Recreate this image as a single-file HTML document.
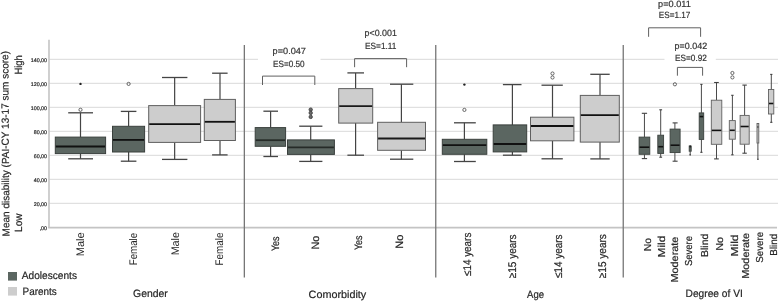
<!DOCTYPE html><html><head><meta charset="utf-8"><style>html,body{margin:0;padding:0;background:#fff;}svg{display:block;}text{font-family:"Liberation Sans", sans-serif;text-rendering:geometricPrecision;} .b{stroke:#262626;stroke-width:0.2px;} .a{stroke:#333;stroke-width:0.2px;}</style></head><body>
<svg width="778" height="302" viewBox="0 0 778 302" style="will-change:transform">
<rect width="778" height="302" fill="#fff"/>
<line x1="49" y1="203.30" x2="778" y2="203.30" stroke="#d9d9d9" stroke-width="1"/>
<line x1="49" y1="179.30" x2="778" y2="179.30" stroke="#d9d9d9" stroke-width="1"/>
<line x1="49" y1="155.30" x2="778" y2="155.30" stroke="#d9d9d9" stroke-width="1"/>
<line x1="49" y1="131.30" x2="778" y2="131.30" stroke="#d9d9d9" stroke-width="1"/>
<line x1="49" y1="107.30" x2="778" y2="107.30" stroke="#d9d9d9" stroke-width="1"/>
<line x1="49" y1="83.30" x2="778" y2="83.30" stroke="#d9d9d9" stroke-width="1"/>
<line x1="49" y1="59.30" x2="778" y2="59.30" stroke="#d9d9d9" stroke-width="1"/>
<rect x="258.00" y="56" width="62.50" height="7" fill="#fff"/>
<rect x="664.50" y="56" width="51.30" height="7" fill="#fff"/>
<line x1="49" y1="39.7" x2="49" y2="228" stroke="#c4c4c4" stroke-width="1.6"/>
<line x1="48.2" y1="227.6" x2="777" y2="227.6" stroke="#c4c4c4" stroke-width="1.6"/>
<line x1="244.35" y1="44.9" x2="244.35" y2="277.5" stroke="#767676" stroke-width="1.3"/>
<line x1="435.75" y1="44.9" x2="435.75" y2="277.5" stroke="#767676" stroke-width="1.3"/>
<line x1="623.25" y1="44.9" x2="623.25" y2="277.5" stroke="#767676" stroke-width="1.3"/>
<text x="47" y="230.10" font-size="5.3" text-anchor="end" fill="#262626" stroke="#333" stroke-width="0.22">,00</text>
<text x="47" y="206.10" font-size="5.3" text-anchor="end" fill="#262626" stroke="#333" stroke-width="0.22">20,00</text>
<text x="47" y="182.10" font-size="5.3" text-anchor="end" fill="#262626" stroke="#333" stroke-width="0.22">40,00</text>
<text x="47" y="158.10" font-size="5.3" text-anchor="end" fill="#262626" stroke="#333" stroke-width="0.22">60,00</text>
<text x="47" y="134.10" font-size="5.3" text-anchor="end" fill="#262626" stroke="#333" stroke-width="0.22">80,00</text>
<text x="47" y="110.10" font-size="5.3" text-anchor="end" fill="#262626" stroke="#333" stroke-width="0.22">100,00</text>
<text x="47" y="86.10" font-size="5.3" text-anchor="end" fill="#262626" stroke="#333" stroke-width="0.22">120,00</text>
<text x="47" y="62.10" font-size="5.3" text-anchor="end" fill="#262626" stroke="#333" stroke-width="0.22">140,00</text>
<line x1="80.50" y1="112.80" x2="80.50" y2="137.10" stroke="#444444" stroke-width="1.20"/>
<line x1="80.50" y1="153.60" x2="80.50" y2="158.80" stroke="#444444" stroke-width="1.20"/>
<line x1="68.20" y1="112.80" x2="93.00" y2="112.80" stroke="#444444" stroke-width="1.30"/>
<line x1="68.20" y1="158.80" x2="93.00" y2="158.80" stroke="#444444" stroke-width="1.30"/>
<rect x="55.30" y="137.10" width="50.30" height="16.50" fill="#5b6661" stroke="#3a403d" stroke-width="1.00"/>
<line x1="55.80" y1="146.50" x2="105.10" y2="146.50" stroke="#111111" stroke-width="1.80"/>
<circle cx="80.50" cy="109.80" r="1.6" fill="none" stroke="#3a3a3a" stroke-width="0.75"/>
<circle cx="80.50" cy="83.90" r="1.2" fill="#222"/>
<line x1="128.60" y1="111.40" x2="128.60" y2="126.30" stroke="#444444" stroke-width="1.20"/>
<line x1="128.60" y1="152.00" x2="128.60" y2="161.20" stroke="#444444" stroke-width="1.20"/>
<line x1="120.80" y1="111.40" x2="136.40" y2="111.40" stroke="#444444" stroke-width="1.30"/>
<line x1="120.80" y1="161.20" x2="136.40" y2="161.20" stroke="#444444" stroke-width="1.30"/>
<rect x="112.50" y="126.30" width="32.10" height="25.70" fill="#5b6661" stroke="#3a403d" stroke-width="1.00"/>
<line x1="113.00" y1="139.90" x2="144.10" y2="139.90" stroke="#111111" stroke-width="1.80"/>
<circle cx="128.60" cy="83.90" r="1.6" fill="none" stroke="#3a3a3a" stroke-width="0.75"/>
<line x1="174.65" y1="77.50" x2="174.65" y2="105.60" stroke="#444444" stroke-width="1.20"/>
<line x1="174.65" y1="142.40" x2="174.65" y2="159.40" stroke="#444444" stroke-width="1.20"/>
<line x1="162.00" y1="77.50" x2="187.40" y2="77.50" stroke="#444444" stroke-width="1.30"/>
<line x1="162.00" y1="159.40" x2="187.40" y2="159.40" stroke="#444444" stroke-width="1.30"/>
<rect x="148.70" y="105.60" width="51.90" height="36.80" fill="#cdcdcd" stroke="#606060" stroke-width="1.00"/>
<line x1="149.20" y1="124.20" x2="200.10" y2="124.20" stroke="#111111" stroke-width="1.80"/>
<line x1="220.00" y1="73.20" x2="220.00" y2="99.40" stroke="#444444" stroke-width="1.20"/>
<line x1="220.00" y1="140.50" x2="220.00" y2="154.90" stroke="#444444" stroke-width="1.20"/>
<line x1="212.10" y1="73.20" x2="227.60" y2="73.20" stroke="#444444" stroke-width="1.30"/>
<line x1="212.10" y1="154.90" x2="227.60" y2="154.90" stroke="#444444" stroke-width="1.30"/>
<rect x="204.30" y="99.40" width="31.10" height="41.10" fill="#cdcdcd" stroke="#606060" stroke-width="1.00"/>
<line x1="204.80" y1="121.80" x2="234.90" y2="121.80" stroke="#111111" stroke-width="1.80"/>
<line x1="270.60" y1="111.20" x2="270.60" y2="127.60" stroke="#444444" stroke-width="1.20"/>
<line x1="270.60" y1="146.30" x2="270.60" y2="156.50" stroke="#444444" stroke-width="1.20"/>
<line x1="263.40" y1="111.20" x2="278.00" y2="111.20" stroke="#444444" stroke-width="1.30"/>
<line x1="263.40" y1="156.50" x2="278.00" y2="156.50" stroke="#444444" stroke-width="1.30"/>
<rect x="255.20" y="127.60" width="30.40" height="18.70" fill="#5b6661" stroke="#3a403d" stroke-width="1.00"/>
<line x1="255.70" y1="140.20" x2="285.10" y2="140.20" stroke="#262b28" stroke-width="1.80"/>
<line x1="310.70" y1="126.20" x2="310.70" y2="139.90" stroke="#444444" stroke-width="1.20"/>
<line x1="310.70" y1="154.40" x2="310.70" y2="161.40" stroke="#444444" stroke-width="1.20"/>
<line x1="299.20" y1="126.20" x2="322.40" y2="126.20" stroke="#444444" stroke-width="1.30"/>
<line x1="299.20" y1="161.40" x2="322.40" y2="161.40" stroke="#444444" stroke-width="1.30"/>
<rect x="287.50" y="139.90" width="46.90" height="14.50" fill="#5b6661" stroke="#3a403d" stroke-width="1.00"/>
<line x1="288.00" y1="147.30" x2="333.90" y2="147.30" stroke="#262b28" stroke-width="1.80"/>
<circle cx="310.70" cy="109.60" r="1.7" fill="#6a6a6a" stroke="#333" stroke-width="0.8"/>
<circle cx="310.70" cy="112.90" r="1.7" fill="#6a6a6a" stroke="#333" stroke-width="0.8"/>
<circle cx="310.70" cy="116.90" r="1.7" fill="#6a6a6a" stroke="#333" stroke-width="0.8"/>
<line x1="355.60" y1="72.90" x2="355.60" y2="88.60" stroke="#444444" stroke-width="1.20"/>
<line x1="355.60" y1="123.10" x2="355.60" y2="155.20" stroke="#444444" stroke-width="1.20"/>
<line x1="347.40" y1="72.90" x2="364.00" y2="72.90" stroke="#444444" stroke-width="1.30"/>
<line x1="347.40" y1="155.20" x2="364.00" y2="155.20" stroke="#444444" stroke-width="1.30"/>
<rect x="338.70" y="88.60" width="34.00" height="34.50" fill="#cdcdcd" stroke="#606060" stroke-width="1.00"/>
<line x1="339.20" y1="106.20" x2="372.20" y2="106.20" stroke="#1a1a1a" stroke-width="1.80"/>
<line x1="401.40" y1="84.20" x2="401.40" y2="122.30" stroke="#444444" stroke-width="1.20"/>
<line x1="401.40" y1="150.30" x2="401.40" y2="159.20" stroke="#444444" stroke-width="1.20"/>
<line x1="390.00" y1="84.20" x2="413.30" y2="84.20" stroke="#444444" stroke-width="1.30"/>
<line x1="390.00" y1="159.20" x2="413.30" y2="159.20" stroke="#444444" stroke-width="1.30"/>
<rect x="377.60" y="122.30" width="47.90" height="28.00" fill="#cdcdcd" stroke="#606060" stroke-width="1.00"/>
<line x1="378.10" y1="138.50" x2="425.00" y2="138.50" stroke="#1a1a1a" stroke-width="1.80"/>
<line x1="464.40" y1="122.80" x2="464.40" y2="139.30" stroke="#444444" stroke-width="1.20"/>
<line x1="464.40" y1="154.30" x2="464.40" y2="161.50" stroke="#444444" stroke-width="1.20"/>
<line x1="454.00" y1="122.80" x2="475.80" y2="122.80" stroke="#444444" stroke-width="1.30"/>
<line x1="454.00" y1="161.50" x2="475.80" y2="161.50" stroke="#444444" stroke-width="1.30"/>
<rect x="442.30" y="139.30" width="44.50" height="15.00" fill="#5b6661" stroke="#3a403d" stroke-width="1.00"/>
<line x1="442.80" y1="145.20" x2="486.30" y2="145.20" stroke="#111111" stroke-width="1.80"/>
<circle cx="464.40" cy="109.90" r="1.6" fill="none" stroke="#3a3a3a" stroke-width="0.75"/>
<circle cx="464.40" cy="84.60" r="1.2" fill="#222"/>
<line x1="512.40" y1="84.60" x2="512.40" y2="124.90" stroke="#444444" stroke-width="1.20"/>
<line x1="512.40" y1="151.90" x2="512.40" y2="155.20" stroke="#444444" stroke-width="1.20"/>
<line x1="502.90" y1="84.60" x2="521.50" y2="84.60" stroke="#444444" stroke-width="1.30"/>
<line x1="502.90" y1="155.20" x2="521.50" y2="155.20" stroke="#444444" stroke-width="1.30"/>
<rect x="493.20" y="124.90" width="33.50" height="27.00" fill="#5b6661" stroke="#3a403d" stroke-width="1.00"/>
<line x1="493.70" y1="144.00" x2="526.20" y2="144.00" stroke="#111111" stroke-width="1.80"/>
<line x1="552.50" y1="85.20" x2="552.50" y2="117.20" stroke="#444444" stroke-width="1.20"/>
<line x1="552.50" y1="140.80" x2="552.50" y2="158.80" stroke="#444444" stroke-width="1.20"/>
<line x1="541.50" y1="85.20" x2="562.80" y2="85.20" stroke="#444444" stroke-width="1.30"/>
<line x1="541.50" y1="158.80" x2="562.80" y2="158.80" stroke="#444444" stroke-width="1.30"/>
<rect x="530.50" y="117.20" width="43.40" height="23.60" fill="#cdcdcd" stroke="#606060" stroke-width="1.00"/>
<line x1="531.00" y1="126.00" x2="573.40" y2="126.00" stroke="#111111" stroke-width="1.80"/>
<circle cx="552.50" cy="73.50" r="1.6" fill="none" stroke="#3a3a3a" stroke-width="0.75"/>
<circle cx="552.50" cy="77.50" r="1.6" fill="none" stroke="#3a3a3a" stroke-width="0.75"/>
<line x1="600.00" y1="74.30" x2="600.00" y2="95.40" stroke="#444444" stroke-width="1.20"/>
<line x1="600.00" y1="142.10" x2="600.00" y2="158.90" stroke="#444444" stroke-width="1.20"/>
<line x1="590.30" y1="74.30" x2="609.70" y2="74.30" stroke="#444444" stroke-width="1.30"/>
<line x1="590.30" y1="158.90" x2="609.70" y2="158.90" stroke="#444444" stroke-width="1.30"/>
<rect x="580.30" y="95.40" width="39.00" height="46.70" fill="#cdcdcd" stroke="#606060" stroke-width="1.00"/>
<line x1="580.80" y1="115.20" x2="618.80" y2="115.20" stroke="#111111" stroke-width="1.80"/>
<line x1="644.45" y1="113.30" x2="644.45" y2="137.10" stroke="#404040" stroke-width="0.95"/>
<line x1="644.45" y1="154.30" x2="644.45" y2="158.60" stroke="#404040" stroke-width="0.95"/>
<line x1="641.80" y1="113.30" x2="647.10" y2="113.30" stroke="#404040" stroke-width="1.10"/>
<line x1="641.80" y1="158.60" x2="647.10" y2="158.60" stroke="#404040" stroke-width="1.10"/>
<rect x="639.10" y="137.10" width="10.70" height="17.20" fill="#5b6661" stroke="#3a403d" stroke-width="0.90"/>
<line x1="639.60" y1="147.20" x2="649.30" y2="147.20" stroke="#111111" stroke-width="1.60"/>
<line x1="660.70" y1="109.80" x2="660.70" y2="135.20" stroke="#404040" stroke-width="0.95"/>
<line x1="660.70" y1="153.40" x2="660.70" y2="157.20" stroke="#404040" stroke-width="0.95"/>
<line x1="659.30" y1="109.80" x2="662.10" y2="109.80" stroke="#404040" stroke-width="1.10"/>
<line x1="659.30" y1="157.20" x2="662.10" y2="157.20" stroke="#404040" stroke-width="1.10"/>
<rect x="657.80" y="135.20" width="5.80" height="18.20" fill="#5b6661" stroke="#3a403d" stroke-width="0.90"/>
<line x1="658.30" y1="146.70" x2="663.10" y2="146.70" stroke="#111111" stroke-width="1.60"/>
<line x1="674.90" y1="122.90" x2="674.90" y2="129.10" stroke="#404040" stroke-width="0.95"/>
<line x1="674.90" y1="152.60" x2="674.90" y2="161.20" stroke="#404040" stroke-width="0.95"/>
<line x1="672.60" y1="122.90" x2="677.60" y2="122.90" stroke="#404040" stroke-width="1.10"/>
<line x1="672.60" y1="161.20" x2="677.60" y2="161.20" stroke="#404040" stroke-width="1.10"/>
<rect x="670.10" y="129.10" width="10.00" height="23.50" fill="#5b6661" stroke="#3a403d" stroke-width="0.90"/>
<line x1="670.60" y1="145.20" x2="679.60" y2="145.20" stroke="#111111" stroke-width="1.60"/>
<circle cx="674.90" cy="84.30" r="1.6" fill="none" stroke="#3a3a3a" stroke-width="0.75"/>
<line x1="690.20" y1="146.00" x2="690.20" y2="146.00" stroke="#404040" stroke-width="0.95"/>
<line x1="690.20" y1="151.20" x2="690.20" y2="154.90" stroke="#404040" stroke-width="0.95"/>
<line x1="689.40" y1="146.00" x2="691.00" y2="146.00" stroke="#404040" stroke-width="1.10"/>
<line x1="689.40" y1="154.90" x2="691.00" y2="154.90" stroke="#404040" stroke-width="1.10"/>
<rect x="689.20" y="146.00" width="2.00" height="5.20" fill="#5b6661" stroke="#3a403d" stroke-width="0.90"/>
<line x1="689.70" y1="146.60" x2="690.70" y2="146.60" stroke="#111111" stroke-width="1.60"/>
<line x1="701.40" y1="84.40" x2="701.40" y2="112.90" stroke="#404040" stroke-width="0.95"/>
<line x1="701.40" y1="139.40" x2="701.40" y2="152.30" stroke="#404040" stroke-width="0.95"/>
<line x1="700.30" y1="84.40" x2="702.50" y2="84.40" stroke="#404040" stroke-width="1.10"/>
<line x1="700.30" y1="152.30" x2="702.50" y2="152.30" stroke="#404040" stroke-width="1.10"/>
<rect x="699.20" y="112.90" width="4.50" height="26.50" fill="#5b6661" stroke="#3a403d" stroke-width="0.90"/>
<line x1="699.70" y1="116.60" x2="703.20" y2="116.60" stroke="#111111" stroke-width="1.60"/>
<line x1="716.50" y1="82.50" x2="716.50" y2="100.20" stroke="#404040" stroke-width="0.95"/>
<line x1="716.50" y1="144.30" x2="716.50" y2="158.90" stroke="#404040" stroke-width="0.95"/>
<line x1="714.10" y1="82.50" x2="718.80" y2="82.50" stroke="#404040" stroke-width="1.10"/>
<line x1="714.10" y1="158.90" x2="718.80" y2="158.90" stroke="#404040" stroke-width="1.10"/>
<rect x="711.30" y="100.20" width="10.50" height="44.10" fill="#cdcdcd" stroke="#606060" stroke-width="0.90"/>
<line x1="711.80" y1="130.40" x2="721.30" y2="130.40" stroke="#111111" stroke-width="1.60"/>
<line x1="732.40" y1="95.30" x2="732.40" y2="120.60" stroke="#404040" stroke-width="0.95"/>
<line x1="732.40" y1="139.20" x2="732.40" y2="154.80" stroke="#404040" stroke-width="0.95"/>
<line x1="731.20" y1="95.30" x2="733.60" y2="95.30" stroke="#404040" stroke-width="1.10"/>
<line x1="731.20" y1="154.80" x2="733.60" y2="154.80" stroke="#404040" stroke-width="1.10"/>
<rect x="729.30" y="120.60" width="6.00" height="18.60" fill="#cdcdcd" stroke="#606060" stroke-width="0.90"/>
<line x1="729.80" y1="130.30" x2="734.80" y2="130.30" stroke="#111111" stroke-width="1.60"/>
<circle cx="732.40" cy="73.00" r="1.6" fill="none" stroke="#3a3a3a" stroke-width="0.75"/>
<circle cx="732.40" cy="77.40" r="1.6" fill="none" stroke="#3a3a3a" stroke-width="0.75"/>
<line x1="744.60" y1="85.10" x2="744.60" y2="115.40" stroke="#404040" stroke-width="0.95"/>
<line x1="744.60" y1="144.20" x2="744.60" y2="153.20" stroke="#404040" stroke-width="0.95"/>
<line x1="742.40" y1="85.10" x2="746.80" y2="85.10" stroke="#404040" stroke-width="1.10"/>
<line x1="742.40" y1="153.20" x2="746.80" y2="153.20" stroke="#404040" stroke-width="1.10"/>
<rect x="740.10" y="115.40" width="9.10" height="28.80" fill="#cdcdcd" stroke="#606060" stroke-width="0.90"/>
<line x1="740.60" y1="126.50" x2="748.70" y2="126.50" stroke="#111111" stroke-width="1.60"/>
<line x1="757.90" y1="123.50" x2="757.90" y2="123.50" stroke="#404040" stroke-width="0.95"/>
<line x1="757.90" y1="143.00" x2="757.90" y2="159.30" stroke="#404040" stroke-width="0.95"/>
<line x1="757.00" y1="123.50" x2="758.80" y2="123.50" stroke="#404040" stroke-width="1.10"/>
<line x1="757.00" y1="159.30" x2="758.80" y2="159.30" stroke="#404040" stroke-width="1.10"/>
<rect x="757.00" y="123.50" width="1.80" height="19.50" fill="#cdcdcd" stroke="#606060" stroke-width="0.90"/>
<line x1="757.50" y1="127.00" x2="758.30" y2="127.00" stroke="#111111" stroke-width="1.60"/>
<line x1="771.30" y1="74.40" x2="771.30" y2="89.50" stroke="#404040" stroke-width="0.95"/>
<line x1="771.30" y1="114.00" x2="771.30" y2="122.30" stroke="#404040" stroke-width="0.95"/>
<line x1="770.20" y1="74.40" x2="772.40" y2="74.40" stroke="#404040" stroke-width="1.10"/>
<line x1="770.20" y1="122.30" x2="772.40" y2="122.30" stroke="#404040" stroke-width="1.10"/>
<rect x="768.50" y="89.50" width="5.30" height="24.50" fill="#cdcdcd" stroke="#606060" stroke-width="0.90"/>
<line x1="769.00" y1="103.50" x2="773.30" y2="103.50" stroke="#111111" stroke-width="1.60"/>
<path d="M262.50 85.00 V76.10 H314.80 V85.00" fill="none" stroke="#606060" stroke-width="1"/>
<path d="M354.60 67.20 V58.60 H406.60 V67.20" fill="none" stroke="#606060" stroke-width="1"/>
<path d="M648.60 36.80 V27.80 H700.60 V36.80" fill="none" stroke="#606060" stroke-width="1"/>
<path d="M677.40 75.70 V67.40 H702.60 V75.70" fill="none" stroke="#606060" stroke-width="1"/>
<text class="" transform="translate(83.94 256.36) rotate(-90)" font-size="11.00" fill="#262626" textLength="24.06" lengthAdjust="spacingAndGlyphs">Male</text>
<text class="" transform="translate(136.79 265.33) rotate(-90)" font-size="11.00" fill="#262626" textLength="32.55" lengthAdjust="spacingAndGlyphs">Female</text>
<text class="" transform="translate(179.28 255.36) rotate(-90)" font-size="11.00" fill="#262626" textLength="23.38" lengthAdjust="spacingAndGlyphs">Male</text>
<text class="" transform="translate(222.60 265.41) rotate(-90)" font-size="11.00" fill="#262626" textLength="32.76" lengthAdjust="spacingAndGlyphs">Female</text>
<text class="b" transform="translate(278.62 251.05) rotate(-90)" font-size="10.70" fill="#262626" textLength="14.59" lengthAdjust="spacingAndGlyphs">Yes</text>
<text class="b" transform="translate(318.82 249.50) rotate(-90)" font-size="10.70" fill="#262626" textLength="13.76" lengthAdjust="spacingAndGlyphs">No</text>
<text class="b" transform="translate(361.57 250.03) rotate(-90)" font-size="10.70" fill="#262626" textLength="14.55" lengthAdjust="spacingAndGlyphs">Yes</text>
<text class="b" transform="translate(403.30 248.73) rotate(-90)" font-size="10.70" fill="#262626" textLength="14.05" lengthAdjust="spacingAndGlyphs">No</text>
<text class="b" transform="translate(471.48 276.02) rotate(-90)" font-size="11.20" fill="#262626" textLength="43.36" lengthAdjust="spacingAndGlyphs">≤14 years</text>
<text class="b" transform="translate(515.80 278.19) rotate(-90)" font-size="11.20" fill="#262626" textLength="43.80" lengthAdjust="spacingAndGlyphs">≥15 years</text>
<text class="b" transform="translate(562.30 278.10) rotate(-90)" font-size="11.20" fill="#262626" textLength="43.63" lengthAdjust="spacingAndGlyphs">≤14 years</text>
<text class="b" transform="translate(605.60 278.13) rotate(-90)" font-size="11.20" fill="#262626" textLength="43.98" lengthAdjust="spacingAndGlyphs">≥15 years</text>
<text class="b" transform="translate(651.03 251.32) rotate(-90)" font-size="10.10" fill="#262626" textLength="13.19" lengthAdjust="spacingAndGlyphs">No</text>
<text class="b" transform="translate(665.08 257.41) rotate(-90)" font-size="10.10" fill="#262626" textLength="21.68" lengthAdjust="spacingAndGlyphs">Mild</text>
<text class="b" transform="translate(678.03 282.59) rotate(-90)" font-size="10.10" fill="#262626" textLength="45.99" lengthAdjust="spacingAndGlyphs">Moderate</text>
<text class="b" transform="translate(692.46 266.02) rotate(-90)" font-size="10.10" fill="#262626" textLength="30.02" lengthAdjust="spacingAndGlyphs">Severe</text>
<text class="b" transform="translate(708.30 256.89) rotate(-90)" font-size="10.10" fill="#262626" textLength="23.12" lengthAdjust="spacingAndGlyphs">Blind</text>
<text class="b" transform="translate(723.43 250.83) rotate(-90)" font-size="10.10" fill="#262626" textLength="13.78" lengthAdjust="spacingAndGlyphs">No</text>
<text class="b" transform="translate(737.83 256.53) rotate(-90)" font-size="10.10" fill="#262626" textLength="22.03" lengthAdjust="spacingAndGlyphs">Mild</text>
<text class="b" transform="translate(749.28 278.73) rotate(-90)" font-size="10.10" fill="#262626" textLength="45.91" lengthAdjust="spacingAndGlyphs">Moderate</text>
<text class="b" transform="translate(762.60 262.67) rotate(-90)" font-size="10.10" fill="#262626" textLength="30.79" lengthAdjust="spacingAndGlyphs">Severe</text>
<text class="b" transform="translate(776.85 255.67) rotate(-90)" font-size="10.10" fill="#262626" textLength="21.91" lengthAdjust="spacingAndGlyphs">Blind</text>
<text class="b" x="133.04" y="297.10" font-size="10.64" fill="#262626" textLength="34.80" lengthAdjust="spacingAndGlyphs">Gender</text>
<text class="b" x="308.61" y="298.47" font-size="10.64" fill="#262626" textLength="57.56" lengthAdjust="spacingAndGlyphs">Comorbidity</text>
<text class="b" x="527.10" y="298.04" font-size="10.64" fill="#262626" textLength="17.00" lengthAdjust="spacingAndGlyphs">Age</text>
<text class="b" x="685.59" y="296.58" font-size="10.64" fill="#262626" textLength="57.25" lengthAdjust="spacingAndGlyphs">Degree of VI</text>
<text class="b" x="21.84" y="278.54" font-size="10.64" fill="#262626" textLength="55.13" lengthAdjust="spacingAndGlyphs">Adolescents</text>
<text class="b" x="22.60" y="294.83" font-size="10.64" fill="#262626" textLength="34.20" lengthAdjust="spacingAndGlyphs">Parents</text>
<text class="a" x="272.60" y="54.36" font-size="9.09" fill="#333333" textLength="33.37" lengthAdjust="spacingAndGlyphs">p=0.047</text>
<text class="a" x="273.07" y="66.77" font-size="9.09" fill="#333333" textLength="31.59" lengthAdjust="spacingAndGlyphs">ES=0.50</text>
<text class="a" x="364.57" y="36.43" font-size="9.09" fill="#333333" textLength="32.27" lengthAdjust="spacingAndGlyphs">p&lt;0.001</text>
<text class="a" x="365.04" y="48.85" font-size="9.09" fill="#333333" textLength="31.45" lengthAdjust="spacingAndGlyphs">ES=1.11</text>
<text class="a" x="658.08" y="6.66" font-size="9.09" fill="#333333" textLength="32.72" lengthAdjust="spacingAndGlyphs">p=0.011</text>
<text class="a" x="658.80" y="18.34" font-size="9.09" fill="#333333" textLength="31.62" lengthAdjust="spacingAndGlyphs">ES=1.17</text>
<text class="a" x="674.62" y="49.05" font-size="9.09" fill="#333333" textLength="32.50" lengthAdjust="spacingAndGlyphs">p=0.042</text>
<text class="a" x="675.06" y="60.83" font-size="9.09" fill="#333333" textLength="31.86" lengthAdjust="spacingAndGlyphs">ES=0.92</text>
<text class="b" transform="translate(9.4 236.4) rotate(-90.35)" font-size="10.2" fill="#262626" textLength="185.4" lengthAdjust="spacingAndGlyphs">Mean disability (PAI-CY 13-17 sum score)</text>
<text class="b" transform="translate(21.7 74.6) rotate(-90)" font-size="10.5" fill="#262626" textLength="19.5" lengthAdjust="spacingAndGlyphs">High</text>
<text class="b" transform="translate(21.7 231.9) rotate(-90)" font-size="10.5" fill="#262626" textLength="18.3" lengthAdjust="spacingAndGlyphs">Low</text>
<rect x="8" y="272" width="9" height="8.6" fill="#5b6661"/>
<rect x="8" y="287" width="9" height="8.6" fill="#cdcdcd"/>
</svg></body></html>
